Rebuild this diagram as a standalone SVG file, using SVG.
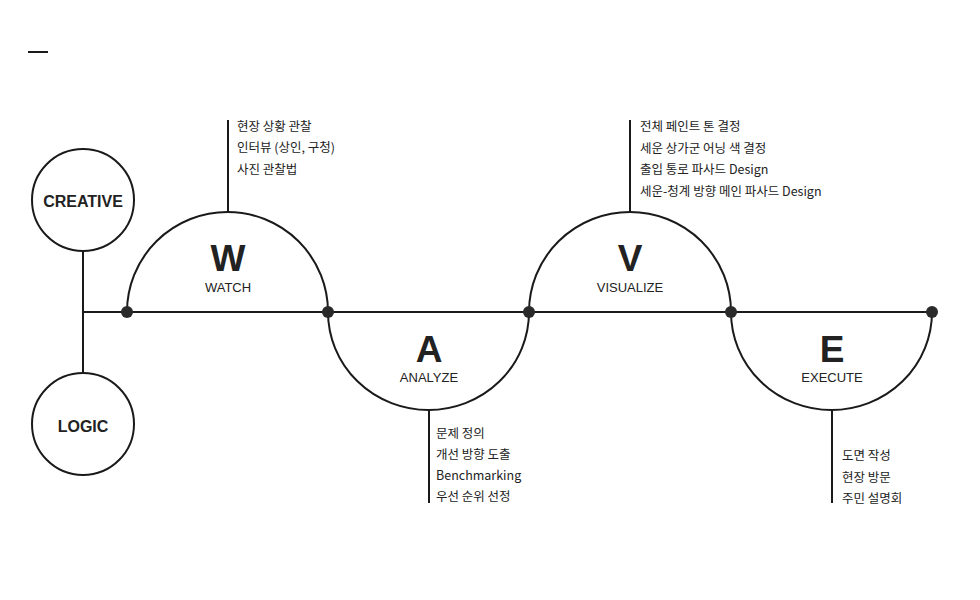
<svg xmlns="http://www.w3.org/2000/svg" width="980" height="600" viewBox="0 0 980 600">
<style>
.ln{stroke:#1a1a1a;stroke-width:2;fill:none}
.dot{fill:#2a2a2a}
.big{font-family:"Liberation Sans",Arial,sans-serif;font-weight:bold;font-size:37px;fill:#222;text-anchor:middle}
.sub{font-family:"Liberation Sans",Arial,sans-serif;font-size:13px;fill:#222;text-anchor:middle}
.circ{font-family:"Liberation Sans",Arial,sans-serif;font-weight:bold;font-size:16px;fill:#222;text-anchor:middle}
.lst{font-family:"Noto Sans CJK KR","Noto Sans",sans-serif;font-size:12.5px;fill:#222}
</style>
<rect width="980" height="600" fill="#fff"/>
<line x1="28" y1="52" x2="48" y2="52" class="ln"/>
<g id="connectors">
<line x1="83" y1="252" x2="83" y2="373" class="ln"/>
<line x1="83" y1="312" x2="932" y2="312" class="ln"/>
<path d="M127,312 A100.5,100 0 0 1 328,312" class="ln"/>
<path d="M328,312 A100.5,98 0 0 0 529,312" class="ln"/>
<path d="M529,312 A101,100 0 0 1 731,312" class="ln"/>
<path d="M731,312 A100.5,98 0 0 0 932,312" class="ln"/>
<line x1="228" y1="120" x2="228" y2="212" class="ln"/>
<line x1="630" y1="120" x2="630" y2="212" class="ln"/>
<line x1="429" y1="410" x2="429" y2="503" class="ln"/>
<line x1="832" y1="410" x2="832" y2="503" class="ln"/>
</g>
<g id="dots">
<circle cx="127" cy="312" r="6" class="dot"/>
<circle cx="328" cy="312" r="6" class="dot"/>
<circle cx="529" cy="312" r="6" class="dot"/>
<circle cx="731" cy="312" r="6" class="dot"/>
<circle cx="932" cy="312" r="6" class="dot"/>
</g>
<g id="creative">
<circle cx="83" cy="200" r="51" class="ln"/>
<text x="83" y="207" class="circ">CREATIVE</text>
</g>
<g id="logic">
<circle cx="83" cy="424" r="51" class="ln"/>
<text x="83" y="432" class="circ">LOGIC</text>
</g>
<g id="watch">
<text x="228" y="271" class="big">W</text>
<text x="228" y="292" class="sub">WATCH</text>
<text x="237" y="131" class="lst">현장 상황 관찰</text>
<text x="237" y="152" class="lst">인터뷰 (상인, 구청)</text>
<text x="237" y="174" class="lst">사진 관찰법</text>
</g>
<g id="analyze">
<text x="429" y="362" class="big">A</text>
<text x="429" y="382" class="sub">ANALYZE</text>
<text x="436" y="438" class="lst">문제 정의</text>
<text x="436" y="459" class="lst">개선 방향 도출</text>
<text x="436" y="480" class="lst">Benchmarking</text>
<text x="436" y="501" class="lst">우선 순위 선정</text>
</g>
<g id="visualize">
<text x="630" y="271" class="big">V</text>
<text x="630" y="292" class="sub">VISUALIZE</text>
<text x="640" y="131" class="lst">전체 페인트 톤 결정</text>
<text x="640" y="153" class="lst">세운 상가군 어닝 색 결정</text>
<text x="640" y="174" class="lst">출입 통로 파사드 Design</text>
<text x="640" y="196" class="lst">세운-청계 방향 메인 파사드 Design</text>
</g>
<g id="execute">
<text x="832" y="362" class="big">E</text>
<text x="832" y="382" class="sub">EXECUTE</text>
<text x="842" y="460" class="lst">도면 작성</text>
<text x="842" y="482" class="lst">현장 방문</text>
<text x="842" y="503" class="lst">주민 설명회</text>
</g>
</svg>
